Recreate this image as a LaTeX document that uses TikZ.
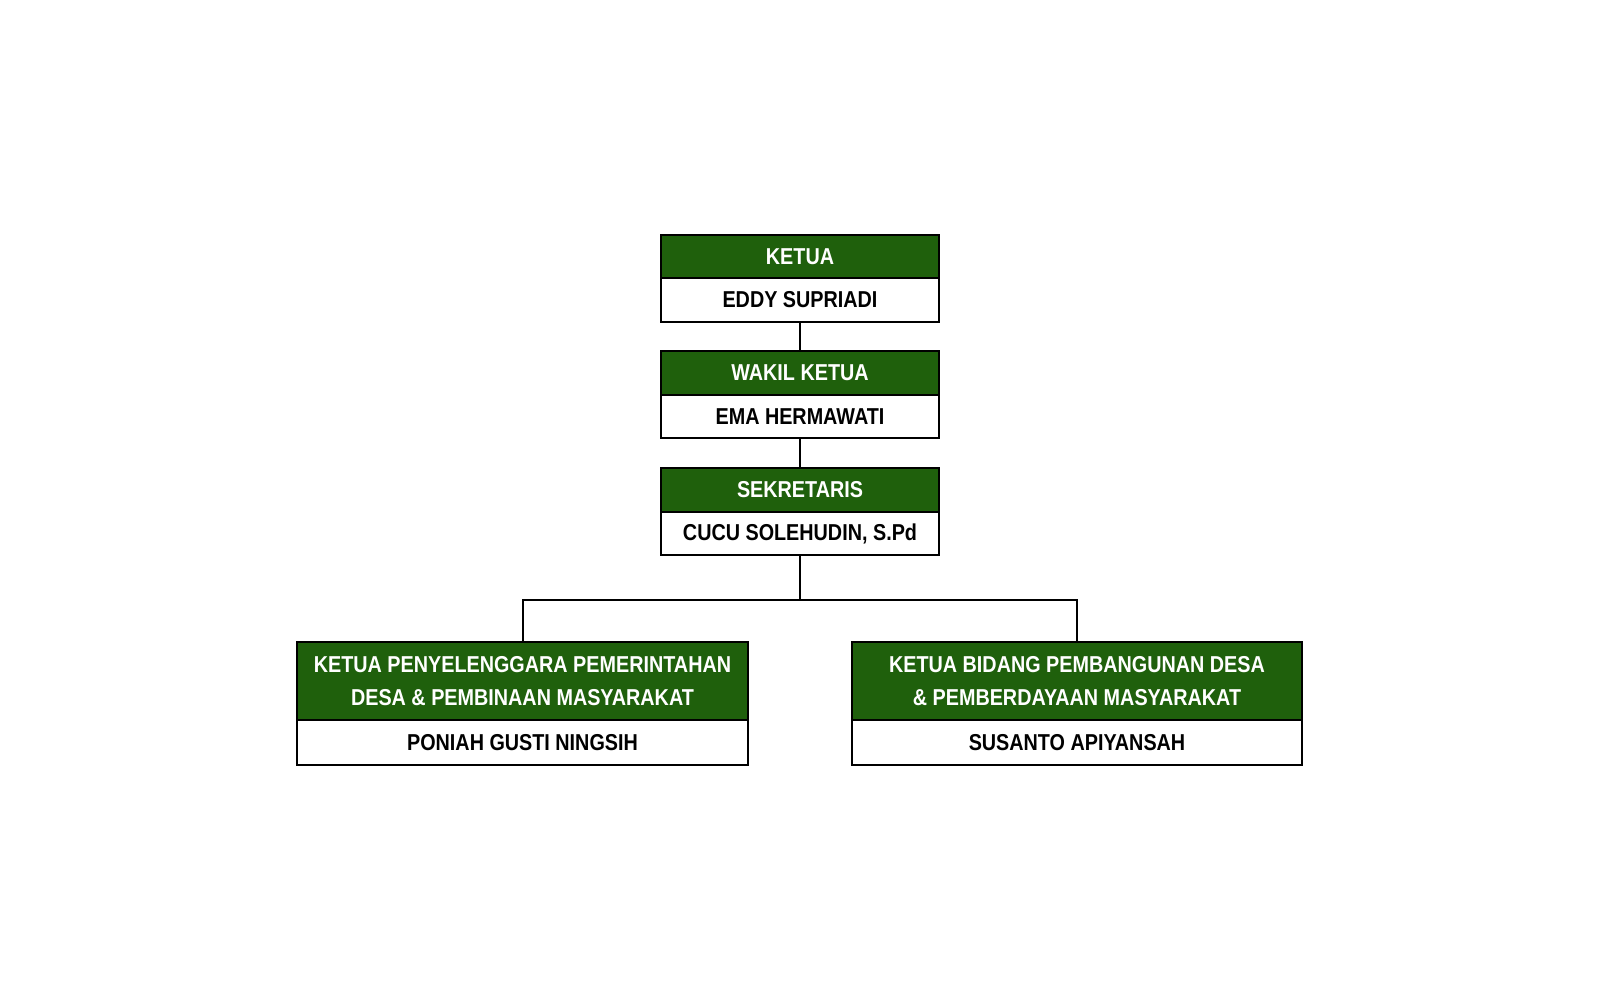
\documentclass[tikz,border=0pt]{standalone}
\usepackage{fontspec}
\setmainfont{Liberation Sans}[FakeStretch=0.86]
\definecolor{hdrgreen}{HTML}{1F600C}
\begin{document}
\begin{tikzpicture}[x=1pt,y=-1pt,
  hdr/.style={draw=black,line width=2pt,fill=hdrgreen,text=white,font=\fontsize{23}{33}\selectfont\bfseries,align=center,inner sep=0pt,anchor=center},
  nm/.style={draw=black,line width=2pt,fill=white,text=black,font=\fontsize{23}{33}\selectfont\bfseries,align=center,inner sep=0pt,anchor=center},
  conn/.style={draw=black,line width=2pt}]
\useasboundingbox (0,0) rectangle (1600,1000);
% top column
\node[hdr,minimum width=278pt,minimum height=43pt] (k1h) at (800,256.5) {KETUA};
\node[nm,minimum width=278pt,minimum height=44pt] (k1n) at (800,300) {EDDY SUPRIADI};
\node[hdr,minimum width=278pt,minimum height=44pt] (k2h) at (800,373) {WAKIL KETUA};
\node[nm,minimum width=278pt,minimum height=43pt] (k2n) at (800,416.5) {EMA HERMAWATI};
\node[hdr,minimum width=278pt,minimum height=44pt] (k3h) at (800,490) {SEKRETARIS};
\node[nm,minimum width=278pt,minimum height=43pt] (k3n) at (800,533.5) {CUCU SOLEHUDIN, S.Pd};
% bottom
\node[hdr,minimum width=451pt,minimum height=78pt] (blh) at (522.5,681) {KETUA PENYELENGGARA PEMERINTAHAN\\DESA \& PEMBINAAN MASYARAKAT};
\node[nm,minimum width=451pt,minimum height=45pt] (bln) at (522.5,742.5) {PONIAH GUSTI NINGSIH};
\node[hdr,minimum width=450pt,minimum height=78pt] (brh) at (1077,681) {KETUA BIDANG PEMBANGUNAN DESA\\\& PEMBERDAYAAN MASYARAKAT};
\node[nm,minimum width=450pt,minimum height=45pt] (brn) at (1077,742.5) {SUSANTO APIYANSAH};
\coordinate (split) at (800,600);
% connectors
\draw[conn] (k1n.south) -- (k2h.north);
\draw[conn] (k2n.south) -- (k3h.north);
\draw[conn] (k3n.south) -- (split);
\draw[conn] (split) -| (blh.north);
\draw[conn] (split) -| (brh.north);
\end{tikzpicture}
\end{document}
